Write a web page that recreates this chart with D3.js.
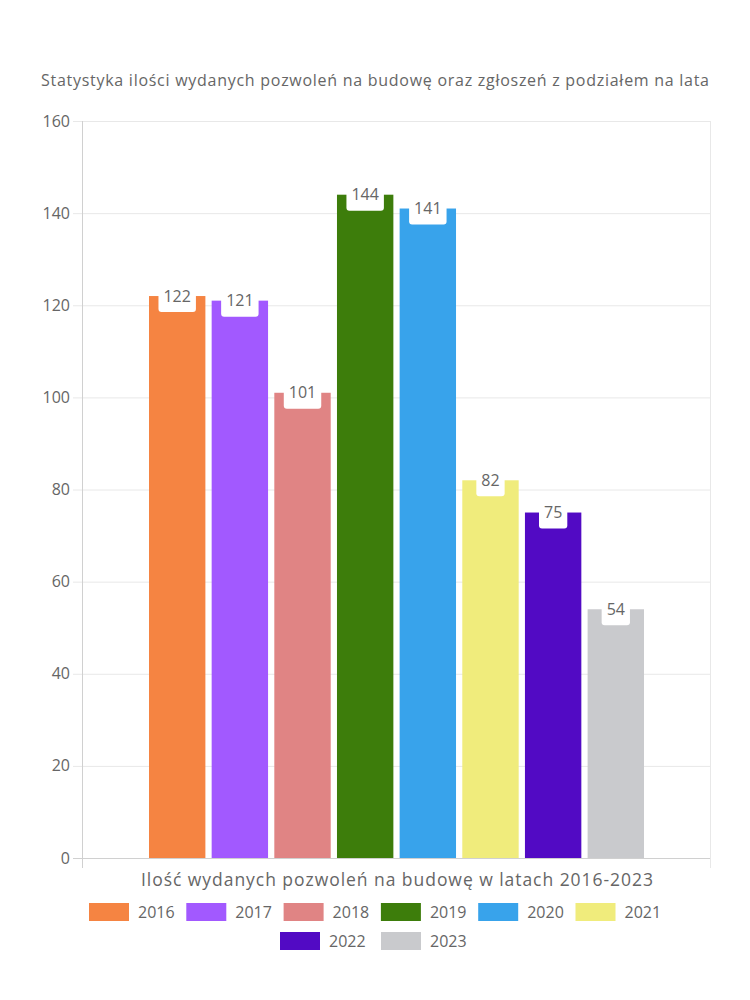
<!DOCTYPE html>
<html><head><meta charset="utf-8">
<script src="https://cdn.jsdelivr.net/npm/d3@7"></script>
<style>body{margin:0;background:#fff}</style>
</head><body>
<svg id="c" width="750" height="1000"></svg>
<script>
const years = ["2016","2017","2018","2019","2020","2021","2022","2023"];
const values = [122,121,101,144,141,82,75,54];
const colors = ["#f58442","#a259ff","#e08484","#3d7d0b","#38a3eb","#f0ec7c","#520ac4","#c9cacd"];
const yTicks = [0,20,40,60,80,100,120,140,160];
const title = "Statystyka ilości wydanych pozwoleń na budowę oraz zgłoszeń z podziałem na lata";
const xTitle = "Ilość wydanych pozwoleń na budowę w latach 2016-2023";

const font = "'Open Sans', sans-serif";
const svg = d3.select("#c");
const L = 82, R = 710, T = 121, B = 858;
const y = d3.scaleLinear().domain([0,160]).range([B,T]);
const x = d3.scaleBand().domain(years).range([L + 67, R - 66]).paddingInner(0.1).paddingOuter(0.0);

// title
svg.append("text").attr("x",375).attr("y",86).attr("text-anchor","middle")
  .attr("font-family",font).attr("font-size",16).attr("fill","#666")
  .attr("textLength",668).attr("lengthAdjust","spacing").text(title);

// grid
const g = svg.append("g");
g.selectAll("line.grid").data(yTicks).enter().append("line")
  .attr("x1",L-9).attr("x2",R).attr("y1",d=>y(d)+0.5).attr("y2",d=>y(d)+0.5)
  .attr("stroke",d=>d===0?"#d0d0d0":"#e8e8e8").attr("stroke-width",1);
[L,R].forEach(xx=>{
  g.append("line").attr("x1",xx+0.5).attr("x2",xx+0.5).attr("y1",T).attr("y2",B+10)
    .attr("stroke",xx===L?"#d0d0d0":"#e8e8e8");
});
g.selectAll("text.yt").data(yTicks).enter().append("text")
  .attr("x",L-12).attr("y",d=>y(d)).attr("dy","0.35em").attr("text-anchor","end")
  .attr("font-family",font).attr("font-size",16).attr("fill","#666").text(d=>d);

// bars
const bars = svg.append("g");
bars.selectAll("rect").data(values).enter().append("rect")
  .attr("x",(d,i)=>x(years[i])).attr("width",x.bandwidth())
  .attr("y",d=>y(d)).attr("height",d=>B-y(d))
  .attr("fill",(d,i)=>colors[i]);

// labels
const lab = svg.append("g");
values.forEach((v,i)=>{
  const cx = x(years[i]) + x.bandwidth()/2;
  const t = lab.append("text").attr("x",cx).attr("y",y(v)).attr("dy","0.35em")
    .attr("text-anchor","middle").attr("font-family",font).attr("font-size",16)
    .attr("fill","#666").text(v);
  const w = t.node().getComputedTextLength() + 10;
  lab.insert("rect","text").attr("x",cx-w/2).attr("width",w)
    .attr("y",y(v)-10).attr("height",26).attr("rx",3).attr("fill","#fff");
});
lab.selectAll("text").raise();

// x title
svg.append("text").attr("x",397).attr("y",886).attr("text-anchor","middle")
  .attr("font-family",font).attr("font-size",17.5).attr("fill","#666")
  .attr("textLength",512).attr("lengthAdjust","spacing").text(xTitle);

// legend
const rows = [years.slice(0,6), years.slice(6)];
rows.forEach((row,ri)=>{
  const startX = ri===0 ? 89 : 280;
  row.forEach((yr,j)=>{
    const i = years.indexOf(yr);
    const gx = startX + j*(ri===0?97.3:101);
    const gy = ri===0 ? 903 : 932;
    svg.append("rect").attr("x",gx).attr("y",gy).attr("width",40).attr("height",18).attr("fill",colors[i]);
    svg.append("text").attr("x",gx+49).attr("y",gy+9).attr("dy","0.35em")
      .attr("font-family",font).attr("font-size",16).attr("fill","#666").text(yr);
  });
});
</script>
</body></html>
